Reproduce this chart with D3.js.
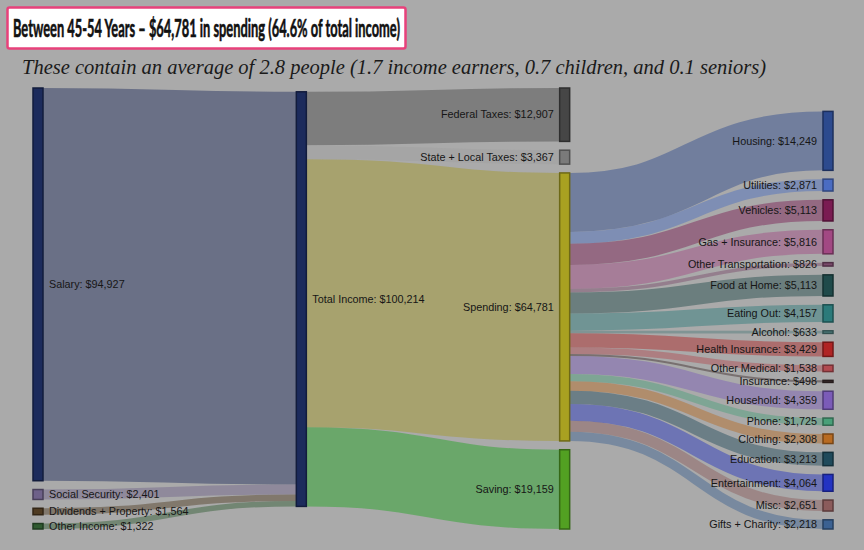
<!DOCTYPE html>
<html>
<head>
<meta charset="utf-8">
<script src="https://cdn.jsdelivr.net/npm/d3@7"></script>
<style>
    body { margin: 0; background: #aaaaaa; }
    svg { display: block; }
    .node-label { font-family: "Liberation Sans", Arial, sans-serif; font-size: 10.8px; fill: #161616; }
</style>
</head>
<body>
<div id="chart"></div>
<script>
"use strict";

const TITLE = "Between 45-54 Years – $64,781 in spending (64.6% of total income)";
const SUBTITLE = "These contain an average of 2.8 people (1.7 income earners, 0.7 children, and 0.1 seniors)";

// income sources -> total income
const incomeNames = ["Salary", "Social Security", "Dividends + Property", "Other Income"];
const incomeValues = [94927, 2401, 1564, 1322];
const incomeColors = ["#1c2b5c", "#6e6189", "#4f3b22", "#2f5a30"];

const TOTAL_NAME = "Total Income";
const TOTAL_COLOR = "#1c2b5c";

// total income -> uses
const useNames = ["Federal Taxes", "State + Local Taxes", "Spending", "Saving"];
const useValues = [12907, 3367, 64781, 19159];
const useColors = ["#464646", "#7a7a7a", "#a9a121", "#52a022"];
const useLinkColors = ["#464646", "#a0a0a0", "#a59825", "#1ca51c"];

// spending -> categories
const spendNames = ["Housing", "Utilities", "Vehicles", "Gas + Insurance", "Other Transportation",
    "Food at Home", "Eating Out", "Alcohol", "Health Insurance", "Other Medical", "Insurance",
    "Household", "Phone", "Clothing", "Education", "Entertainment", "Misc", "Gifts + Charity"];
const spendValues = [14249, 2871, 5113, 5816, 826, 5113, 4157, 633, 3429, 1538, 498,
    4359, 1725, 2308, 3213, 4064, 2651, 2218];
const spendColors = ["#2c4a8e", "#4a6cc2", "#7a1b52", "#a24883", "#7a4a6b",
    "#1f4a4a", "#2b7a7a", "#4d7b7b", "#b02424", "#b24a50", "#3b2b2b",
    "#7b5bb8", "#49a079", "#b86b22", "#1f4a5b", "#2333c2", "#8b5b5b", "#3b6192"];

const W = 864, H = 550;
const EXTENT = {x0: 33, y0: 88, x1: 833, y1: 529};
const NODE_WIDTH = 10, NODE_PADDING = 8.8, ITERATIONS = 32;

function buildGraph() {
    const nodes = [], links = [];
    function addNode(name, color) {
        nodes.push({name: name, color: color});
        return nodes.length - 1;
    }
    const total = addNode(TOTAL_NAME, TOTAL_COLOR);
    incomeNames.forEach(function (n, i) {
        const k = addNode(n, incomeColors[i]);
        links.push({source: k, target: total, value: incomeValues[i], color: incomeColors[i]});
    });
    let spending = -1;
    useNames.forEach(function (n, i) {
        const k = addNode(n, useColors[i]);
        if (n === "Spending") spending = k;
        links.push({source: total, target: k, value: useValues[i], color: useLinkColors[i]});
    });
    spendNames.forEach(function (n, i) {
        const k = addNode(n, spendColors[i]);
        links.push({source: spending, target: k, value: spendValues[i], color: spendColors[i]});
    });
    return {nodes: nodes, links: links};
}

// port of the original d3 sankey plugin layout (columns keep the data order);
// d3 v7 itself has no sankey module
function layoutSankey(graph) {
    const nodes = graph.nodes, links = graph.links;
    const x0 = EXTENT.x0, y0 = EXTENT.y0, x1 = EXTENT.x1, y1 = EXTENT.y1;
    const py = NODE_PADDING;

    nodes.forEach(function (n, i) { n.index = i; n.sourceLinks = []; n.targetLinks = []; });
    links.forEach(function (l, i) {
        l.index = i;
        l.source = nodes[l.source];
        l.target = nodes[l.target];
        l.source.sourceLinks.push(l);
        l.target.targetLinks.push(l);
    });
    nodes.forEach(function (n) {
        n.value = Math.max(d3.sum(n.sourceLinks, l => l.value), d3.sum(n.targetLinks, l => l.value));
    });

    // breadth (column) of each node
    let current = nodes.filter(n => n.targetLinks.length === 0);
    let depth = 0;
    while (current.length) {
        const next = [];
        current.forEach(function (n) {
            n.depth = depth;
            n.sourceLinks.forEach(function (l) {
                if (next.indexOf(l.target) < 0) next.push(l.target);
            });
        });
        current = next;
        depth++;
    }
    const nCols = d3.max(nodes, n => n.depth) + 1;
    const xScale = d3.scaleLinear().domain([0, nCols - 1]).range([x0, x1 - NODE_WIDTH]);
    nodes.forEach(function (n) {
        n.x0 = xScale(n.depth);
        n.x1 = n.x0 + NODE_WIDTH;
    });
    const order = [incomeNames, [TOTAL_NAME], useNames, spendNames];
    const columns = order.map(function (names, c) {
        return names.map(name => nodes.find(n => n.name === name && n.depth === c));
    });

    const ky = d3.min(columns, c => (y1 - y0 - (c.length - 1) * py) / d3.sum(c, n => n.value));
    const vScale = d3.scaleLinear().domain([0, 1]).range([0, ky]);
    columns.forEach(function (col) {
        col.forEach(function (n, i) {
            n.y = y0 + i;
            n.dy = vScale(n.value);
        });
    });
    links.forEach(l => l.width = vScale(l.value));

    resolveCollisions();
    let alpha = 1;
    for (let it = ITERATIONS; it > 0; --it) {
        alpha *= 0.99;
        relaxRightToLeft(alpha);
        resolveCollisions();
        relaxLeftToRight(alpha);
        resolveCollisions();
    }

    nodes.forEach(function (n) {
        n.y0 = n.y;
        n.y1 = n.y + n.dy;
    });
    nodes.forEach(function (n) {
        n.sourceLinks.sort((a, b) => a.target.y0 - b.target.y0);
        n.targetLinks.sort((a, b) => a.source.y0 - b.source.y0);
    });
    nodes.forEach(function (n) {
        let a = n.y0, b = n.y0;
        n.sourceLinks.forEach(function (l) { l.y0 = a + l.width / 2; a += l.width; });
        n.targetLinks.forEach(function (l) { l.y1 = b + l.width / 2; b += l.width; });
    });

    function center(n) { return n.y + n.dy / 2; }

    function relaxLeftToRight(a) {
        columns.forEach(function (col) {
            col.forEach(function (n) {
                if (!n.targetLinks.length) return;
                const y = d3.sum(n.targetLinks, l => center(l.source) * l.value) /
                    d3.sum(n.targetLinks, l => l.value);
                n.y += (y - center(n)) * a;
            });
        });
    }
    function relaxRightToLeft(a) {
        columns.slice().reverse().forEach(function (col) {
            col.forEach(function (n) {
                if (!n.sourceLinks.length) return;
                const y = d3.sum(n.sourceLinks, l => center(l.target) * l.value) /
                    d3.sum(n.sourceLinks, l => l.value);
                n.y += (y - center(n)) * a;
            });
        });
    }
    function resolveCollisions() {
        columns.forEach(function (col) {
            let top = y0, n, d, i;
            for (i = 0; i < col.length; ++i) {
                n = col[i];
                d = top - n.y;
                if (d > 0) n.y += d;
                top = n.y + n.dy + py;
            }
            d = top - py - y1;
            if (d > 0) {
                top = n.y -= d;
                for (i = col.length - 2; i >= 0; --i) {
                    n = col[i];
                    d = n.y + n.dy + py - top;
                    if (d > 0) n.y -= d;
                    top = n.y;
                }
            }
        });
    }
    return graph;
}

function buildChart() {
    const graph = layoutSankey(buildGraph());
    const fmt = d3.format("$,");

    const svg = d3.select("#chart").append("svg")
        .attr("width", W)
        .attr("height", H);

    svg.append("rect")
        .attr("width", W)
        .attr("height", H)
        .attr("fill", "#aaaaaa");

    // links
    svg.append("g")
        .attr("fill", "none")
        .selectAll("path")
        .data(graph.links)
        .enter()
        .append("path")
        .attr("d", d3.linkHorizontal()
            .source(d => [d.source.x1, d.y0])
            .target(d => [d.target.x0, d.y1]))
        .attr("stroke", d => d.color)
        .attr("stroke-opacity", 0.45)
        .attr("stroke-width", d => Math.max(1, d.width));

    // nodes
    svg.append("g")
        .selectAll("rect")
        .data(graph.nodes)
        .enter()
        .append("rect")
        .attr("x", d => d.x0)
        .attr("y", d => d.y0)
        .attr("width", d => d.x1 - d.x0)
        .attr("height", d => Math.max(1, d.y1 - d.y0))
        .attr("fill", d => d.color)
        .attr("stroke", d => d3.color(d.color).darker(1.2))
        .attr("stroke-width", 1.5);

    svg.append("g")
        .selectAll("text")
        .data(graph.nodes)
        .enter()
        .append("text")
        .attr("class", "node-label")
        .attr("x", d => d.x0 < W / 2 ? d.x1 + 6 : d.x0 - 6)
        .attr("y", d => (d.y0 + d.y1) / 2)
        .attr("dy", "0.35em")
        .attr("text-anchor", d => d.x0 < W / 2 ? "start" : "end")
        .text(d => d.name + ": " + fmt(d.value));

    // title box
    svg.append("rect")
        .attr("x", 7.5)
        .attr("y", 7.5)
        .attr("width", 398)
        .attr("height", 41)
        .attr("rx", 2)
        .attr("fill", "#ffffff")
        .attr("stroke", "#e8417b")
        .attr("stroke-width", 2.5);
    const title = svg.append("text")
        .style("font-family", "Lato, 'DejaVu Sans Condensed', sans-serif")
        .style("font-weight", "bold")
        .style("font-size", "24px")
        .style("fill", "#111111")
        .style("stroke", "#111111")
        .style("stroke-width", 0.6)
        .text(TITLE);
    // squeeze the title into the box width (condensed face is not available)
    const natural = title.node().getComputedTextLength();
    title.attr("transform", "translate(13,37) scale(" + (387 / natural) + ",1)");

    svg.append("text")
        .attr("x", 22)
        .attr("y", 74)
        .attr("textLength", 744)
        .attr("lengthAdjust", "spacingAndGlyphs")
        .style("font-family", "'Liberation Serif', 'DejaVu Serif', serif")
        .style("font-style", "italic")
        .style("font-size", "21px")
        .style("fill", "#1a1a1a")
        .text(SUBTITLE);
}

buildChart();
</script>
</body>
</html>
